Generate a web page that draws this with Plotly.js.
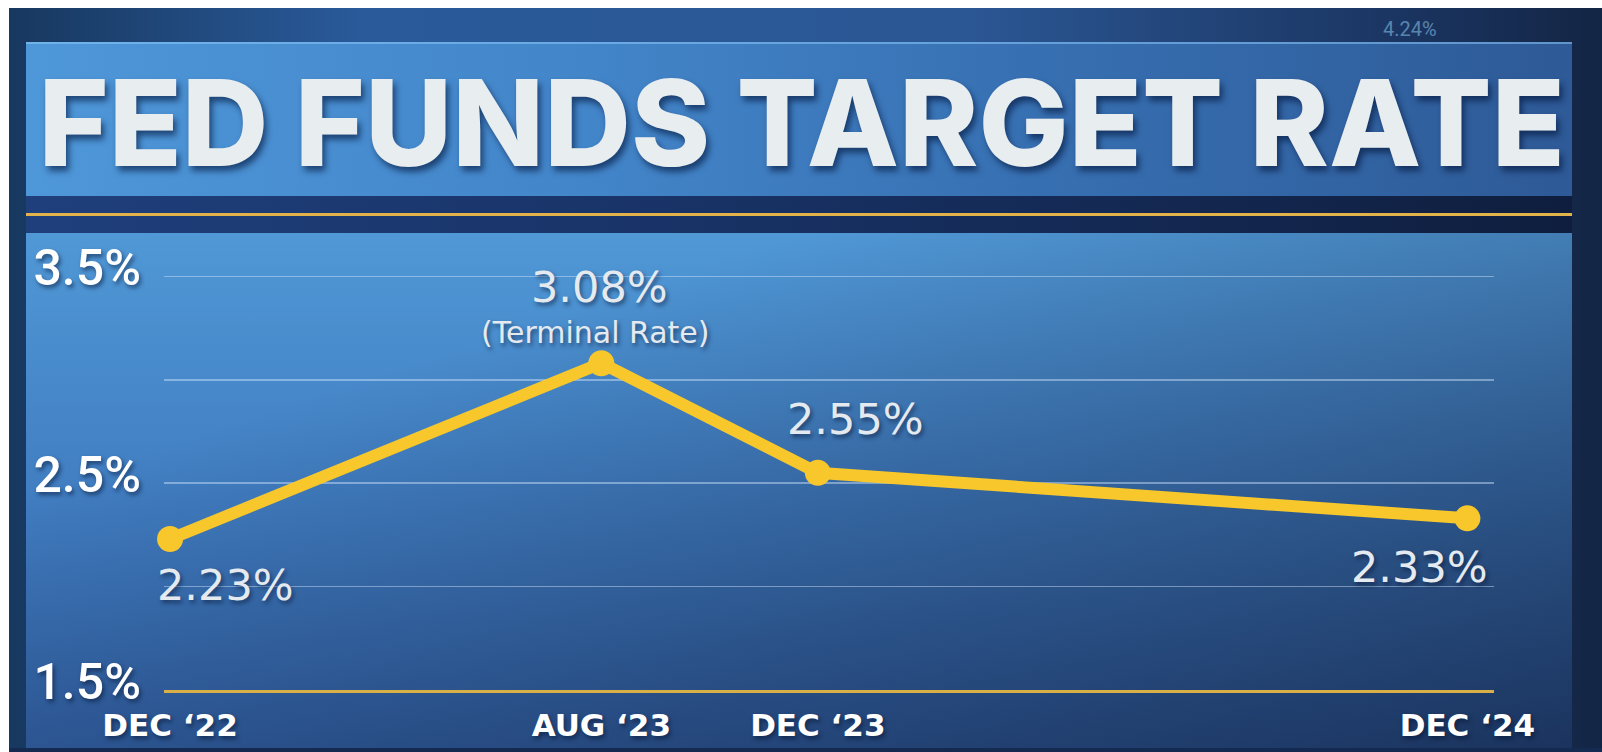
<!DOCTYPE html>
<html>
<head>
<meta charset="utf-8">
<script src="https://cdn.plot.ly/plotly-3.0.1.min.js"></script>
<style>
  html, body { margin:0; padding:0; width:1602px; height:752px; background:#ffffff; overflow:hidden; }
  #stage { position:absolute; left:0; top:0; width:1602px; height:752px; }
  .bg { position:absolute; }
  #outer { left:9px; top:8px; width:1593px; height:744px;
    background: linear-gradient(90deg, #17385f 0%, #2a5a9a 22%, #2b5794 60%, #1a3460 88%, #132544 100%); }
  #titlePanel { left:26px; top:42px; width:1546px; height:154px;
    background: linear-gradient(90deg, #4e97d8 0%, #4386ca 35%, #3770b2 65%, #2e5a97 100%);
    box-shadow: inset 0 2px 0 rgba(140,200,250,0.55); }
  #band { left:26px; top:196px; width:1546px; height:37px;
    background: linear-gradient(90deg, #1f3f7c 0%, #183265 45%, #0f1e3e 100%); }
  #gold { left:26px; top:213px; width:1546px; height:3px; background:#e2b34a; }
  #chartPanel { left:26px; top:233px; width:1546px; height:516px;
    background:
      linear-gradient(to bottom right, rgba(12,22,48,0) 25%, rgba(12,22,48,0.62) 100%),
      linear-gradient(180deg, #5098d6 0%, #417ec2 50%, #3465aa 100%); }
  #bottomBand { left:9px; top:748px; width:1593px; height:4px; background:#142a50; }
  #plot { position:absolute; left:0; top:0; width:1602px; height:752px; }
</style>
</head>
<body>
<div id="stage">
  <div class="bg" id="outer"></div>
  <div class="bg" id="titlePanel"></div>
  <div class="bg" id="band"></div>
  <div class="bg" id="gold"></div>
  <div class="bg" id="chartPanel"></div>
  <div class="bg" id="bottomBand"></div>
  <div id="plot"></div>
</div>
<script>
// ---- data ----
const titleText = 'FED FUNDS TARGET RATE';
const dates = ['2022-12-01', '2023-08-01', '2023-12-01', '2024-12-01'];
const tickLabels = ['DEC ‘22', 'AUG ‘23', 'DEC ‘23', 'DEC ‘24'];
const rates = [2.23, 3.08, 2.55, 2.33];
const notes = ['', '(Terminal Rate)', '', ''];
const yTickVals = [1.5, 2, 2.5, 3, 3.5];
const yTickText = ['1.5%', '', '2.5%', '', '3.5%'];
const backdropText = '4.24%';

// ---- label placement (pixel offsets from each point) ----
const valueShift = [[55, -46], [-2, 76], [38, 54], [-48, -49]];
const noteShift = [[0, 0], [-6, 31], [0, 0], [0, 0]];

const yellow = '#F7C72B';
const labelShadow = '2px 3px 4px rgba(5,20,50,0.55)';

const annotations = [];
rates.forEach((v, i) => {
  annotations.push({
    x: dates[i], y: v, xref: 'x', yref: 'y',
    text: v.toFixed(2) + '%',
    showarrow: false, xanchor: 'center', yanchor: 'middle',
    xshift: valueShift[i][0], yshift: valueShift[i][1],
    font: { family: 'DejaVu Sans', size: 43, color: '#e4eaef', shadow: labelShadow }
  });
  if (notes[i]) {
    annotations.push({
      x: dates[i], y: v, xref: 'x', yref: 'y',
      text: notes[i],
      showarrow: false, xanchor: 'center', yanchor: 'middle',
      xshift: noteShift[i][0], yshift: noteShift[i][1],
      font: { family: 'DejaVu Sans', size: 30, color: '#e4eaef', shadow: labelShadow }
    });
  }
});
// faint ticker text in the studio backdrop (top right)
annotations.push({
  x: 0.937, y: 1.56, xref: 'paper', yref: 'paper',
  text: backdropText, showarrow: false, xanchor: 'center', yanchor: 'middle',
  opacity: 0.55,
  font: { family: 'Roboto', size: 20, color: '#8cc8f0' }
});

const trace = {
  type: 'scatter', mode: 'lines+markers',
  x: dates, y: rates,
  line: { color: yellow, width: 12, shape: 'linear' },
  marker: { color: yellow, size: 26, line: { width: 0 } },
  cliponaxis: false,
  hoverinfo: 'skip'
};

const layout = {
  width: 1602, height: 752,
  margin: { l: 164, r: 108, t: 266, b: 62, pad: 0 },
  paper_bgcolor: 'rgba(0,0,0,0)',
  plot_bgcolor: 'rgba(0,0,0,0)',
  showlegend: false,
  title: {
    text: titleText,
    xref: 'container', yref: 'container',
    x: 0.5004, y: 0.835, xanchor: 'center', yanchor: 'middle',
    font: { family: 'Inter', size: 120, weight: 800, color: '#e8edf0',
            shadow: '3px 5px 6px rgba(0,18,55,0.6)' }
  },
  xaxis: {
    type: 'date',
    range: ['2022-11-27 14:00', '2024-12-16'],
    tickvals: dates, ticktext: tickLabels,
    ticks: '', showgrid: false, zeroline: false,
    showline: true, linecolor: '#d9b048', linewidth: 3,
    ticklabelstandoff: 6,
    tickfont: { family: 'DejaVu Sans', size: 31, weight: 700, color: '#ffffff', shadow: labelShadow },
    fixedrange: true
  },
  yaxis: {
    range: [1.5, 3.55],
    tickvals: yTickVals, ticktext: yTickText,
    ticks: '', showgrid: true, gridcolor: 'rgba(215,232,255,0.45)', gridwidth: 1.5,
    zeroline: false, showline: false,
    ticklabelstandoff: 22, ticklabelshift: -9,
    tickfont: { family: 'Roboto', size: 50, weight: 500, color: '#ffffff', shadow: labelShadow },
    fixedrange: true
  },
  annotations: annotations
};

Plotly.newPlot('plot', [trace], layout, { staticPlot: true, displayModeBar: false });
</script>
</body>
</html>
